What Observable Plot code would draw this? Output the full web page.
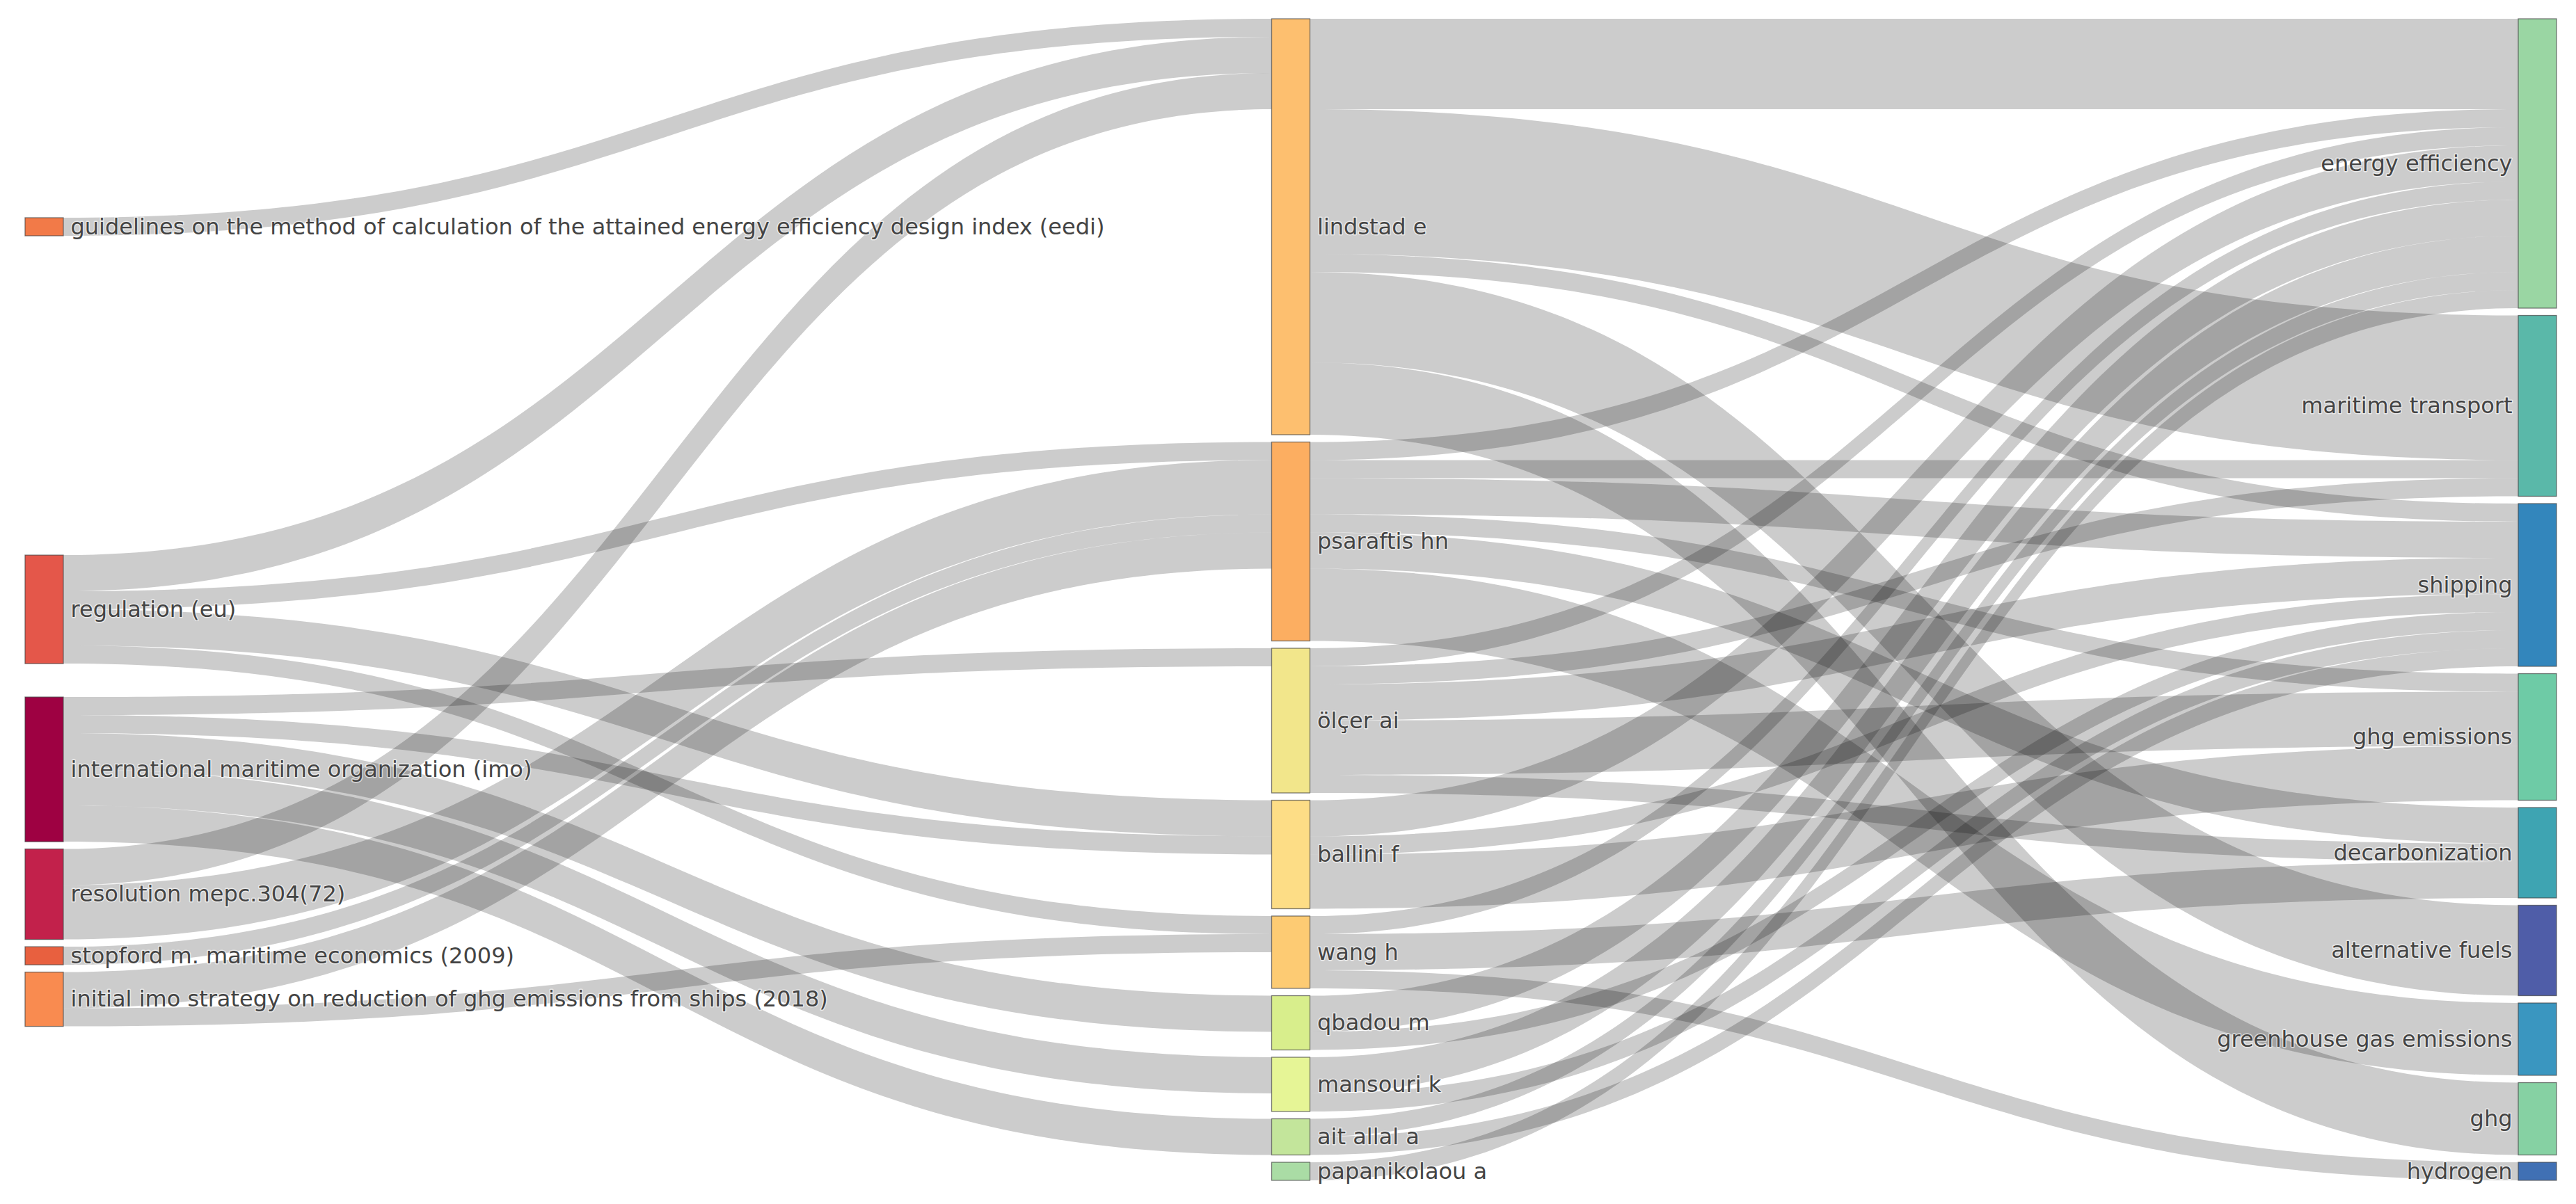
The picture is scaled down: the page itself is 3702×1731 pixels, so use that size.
<!DOCTYPE html>
<html>
<head>
<meta charset="utf-8">
<script src="https://cdn.jsdelivr.net/npm/d3@7"></script>
<script src="https://cdn.jsdelivr.net/npm/@observablehq/plot@0.6"></script>
<style>
  html, body { margin: 0; padding: 0; background: #fff; overflow: hidden; }
  #chart svg { display: block; }
</style>
</head>
<body>
<div id="chart"></div>
<script>
// ---------- DATA ----------
const leftNodes = [
  "guidelines on the method of calculation of the attained energy efficiency design index (eedi)",
  "regulation (eu)",
  "international maritime organization (imo)",
  "resolution mepc.304(72)",
  "stopford m. maritime economics (2009)",
  "initial imo strategy on reduction of ghg emissions from ships (2018)"
];
const middleNodes = [
  "lindstad e", "psaraftis hn", "ölçer ai", "ballini f", "wang h",
  "qbadou m", "mansouri k", "ait allal a", "papanikolaou a"
];
const rightNodes = [
  "energy efficiency", "maritime transport", "shipping", "ghg emissions",
  "decarbonization", "alternative fuels", "greenhouse gas emissions", "ghg", "hydrogen"
];

// links (source, target, value)
const linkSource = [
  leftNodes[0],
  leftNodes[1], leftNodes[1], leftNodes[1], leftNodes[1],
  leftNodes[2], leftNodes[2], leftNodes[2], leftNodes[2], leftNodes[2],
  leftNodes[3], leftNodes[3],
  leftNodes[4],
  leftNodes[5], leftNodes[5],
  "lindstad e", "lindstad e", "lindstad e", "lindstad e", "lindstad e",
  "psaraftis hn", "psaraftis hn", "psaraftis hn", "psaraftis hn", "psaraftis hn", "psaraftis hn",
  "ölçer ai", "ölçer ai", "ölçer ai", "ölçer ai", "ölçer ai",
  "ballini f", "ballini f", "ballini f",
  "wang h", "wang h", "wang h",
  "qbadou m", "qbadou m",
  "mansouri k", "mansouri k",
  "ait allal a", "ait allal a",
  "papanikolaou a"
];
const linkTarget = [
  "lindstad e",
  "lindstad e", "psaraftis hn", "ballini f", "wang h",
  "ölçer ai", "ballini f", "qbadou m", "mansouri k", "ait allal a",
  "lindstad e", "psaraftis hn",
  "psaraftis hn",
  "psaraftis hn", "wang h",
  "energy efficiency", "maritime transport", "shipping", "alternative fuels", "ghg",
  "energy efficiency", "maritime transport", "shipping", "ghg emissions", "decarbonization", "greenhouse gas emissions",
  "energy efficiency", "maritime transport", "shipping", "ghg emissions", "decarbonization",
  "energy efficiency", "shipping", "ghg emissions",
  "energy efficiency", "decarbonization", "hydrogen",
  "energy efficiency", "shipping",
  "energy efficiency", "shipping",
  "energy efficiency", "shipping",
  "energy efficiency"
];
const linkValue = [
  1,
  2, 1, 2, 1,
  1, 1, 2, 2, 2,
  2, 3,
  1,
  2, 1,
  5, 8, 1, 5, 4,
  1, 1, 2, 1, 2, 4,
  1, 1, 2, 3, 1,
  2, 1, 3,
  1, 2, 1,
  2, 1,
  2, 1,
  1, 1,
  1
];

// ---------- STYLE ----------
const leftColors   = ["#f27a48", "#e4574a", "#9e0142", "#c2214b", "#e8603f", "#f98b50"];
const middleColors = ["#fdbf6f", "#fcae61", "#f2e68b", "#fddd86", "#fdcb73", "#d8ee8c", "#e6f596", "#c3e59b", "#aadca5"];
const rightColors  = ["#9ad6a3", "#5ab8a9", "#3386bc", "#6ecba6", "#3ea4b2", "#4f5da8", "#3a96c0", "#86d1a3", "#4070b4"];

const W = 3702, H = 1731;
const M = {top: 27, bottom: 34, left: 36, right: 28};
const innerW = W - M.left - M.right, innerH = H - M.top - M.bottom;
const nodeW = 55 / innerW;     // node thickness (x units)
const pad = 10.5 / innerH;     // node padding (y units)

// ---------- LAYOUT (sankey, computed from data) ----------
const columns = [leftNodes, middleNodes, rightNodes].map((list, c) =>
  list.map((name, i) => ({name, col: c, color: [leftColors, middleColors, rightColors][c][i], out: [], inn: []})));
const byName = new Map(columns.flat().map(n => [n.name, n]));
const links = linkSource.map((s, i) => ({source: byName.get(s), target: byName.get(linkTarget[i]), value: linkValue[i], key: i}));
links.forEach(l => { l.source.out.push(l); l.target.inn.push(l); });
columns.flat().forEach(n => { n.value = Math.max(d3.sum(n.out, l => l.value), d3.sum(n.inn, l => l.value)); });

const ky = d3.min(columns, col => (1 - (col.length - 1) * pad) / d3.sum(col, n => n.value));
columns.forEach((col, c) => {
  let y = 0;
  col.forEach(n => {
    n.h = n.value * ky; n.y0 = y; n.y1 = y + n.h; y = n.y1 + pad;
    n.x0 = c * (1 - nodeW) / 2; n.x1 = n.x0 + nodeW;
  });
});

// order-preserving relaxation: each node pulled to the centre of its neighbours,
// overlapping nodes merged into mass-weighted blocks, then clamped to the frame
function place(col) {
  const blocks = [];
  col.forEach(n => {
    const nb = [...n.out.map(l => [l.target, l.value]), ...n.inn.map(l => [l.source, l.value])];
    const lw = d3.sum(nb, d => d[1]);
    const c = lw ? d3.sum(nb, d => d[1] * (d[0].y0 + d[0].y1) / 2) / lw : (n.y0 + n.y1) / 2;
    const w = n.value * n.value || 1e-6;
    let b = {nodes: [n], w, sum: w * (c - n.h / 2), h: n.h};
    while (blocks.length) {
      const p = blocks[blocks.length - 1];
      if (p.sum / p.w + p.h + pad > b.sum / b.w) {
        const off = p.h + pad;
        b = {nodes: [...p.nodes, ...b.nodes], w: p.w + b.w, sum: p.sum + b.sum - b.w * off, h: p.h + pad + b.h};
        blocks.pop();
      } else break;
    }
    blocks.push(b);
  });
  blocks.forEach(b => { let y = b.sum / b.w; b.nodes.forEach(n => { n.y0 = y; n.y1 = y + n.h; y = n.y1 + pad; }); });
  let y = 0;
  col.forEach(n => { if (n.y0 < y) { n.y1 += y - n.y0; n.y0 = y; } y = n.y1 + pad; });
  y = 1;
  for (let i = col.length - 1; i >= 0; --i) {
    const n = col[i];
    if (n.y1 > y) { n.y0 -= n.y1 - y; n.y1 = y; }
    y = n.y0 - pad;
  }
}
for (let it = 0; it < 4; ++it) { place(columns[1]); place(columns[2]); place(columns[0]); }

// link positions at both ends
columns.flat().forEach(n => {
  n.out.sort((a, b) => a.target.y0 - b.target.y0);
  n.inn.sort((a, b) => a.source.y0 - b.source.y0);
  let y = n.y0;
  n.out.forEach(l => { l.sy0 = y; y += l.value * ky; l.sy1 = y; });
  y = n.y0;
  n.inn.forEach(l => { l.ty0 = y; y += l.value * ky; l.ty1 = y; });
});
const linkPoints = links.flatMap(l => [
  {key: l.key, x: l.source.x1, top: l.sy0, bot: l.sy1},
  {key: l.key, x: l.target.x0, top: l.ty0, bot: l.ty1}
]);
const nodeRows = columns.flat().map(n => ({...n, cy: (n.y0 + n.y1) / 2}));

// ---------- PLOT ----------
const font = {fontFamily: "DejaVu Sans", fontSize: 32};
const chart = Plot.plot({
  width: W, height: H,
  marginTop: M.top, marginBottom: M.bottom, marginLeft: M.left, marginRight: M.right,
  x: {domain: [0, 1], axis: null},
  y: {domain: [0, 1], reverse: true, axis: null},
  color: {type: "identity"},
  style: {background: "#fff", fontFamily: "DejaVu Sans", display: "block"},
  marks: [
    Plot.area(linkPoints, {x1: "x", y1: "top", y2: "bot", z: "key", curve: "bump-x", fill: "black", fillOpacity: 0.2}),
    Plot.rect(nodeRows, {x1: "x0", x2: "x1", y1: "y0", y2: "y1", fill: "color", stroke: "#444", strokeWidth: 1.3, strokeOpacity: 0.7}),
    Plot.text(nodeRows.filter(d => d.col < 2), {x: "x1", y: "cy", text: "name", textAnchor: "start", dx: 10,
      fill: "#444", stroke: "white", strokeWidth: 3, strokeOpacity: 0.6, ...font}),
    Plot.text(nodeRows.filter(d => d.col === 2), {x: "x0", y: "cy", text: "name", textAnchor: "end", dx: -9,
      fill: "#444", stroke: "white", strokeWidth: 3, strokeOpacity: 0.6, ...font})
  ]
});
document.getElementById("chart").appendChild(chart);
</script>
</body>
</html>
